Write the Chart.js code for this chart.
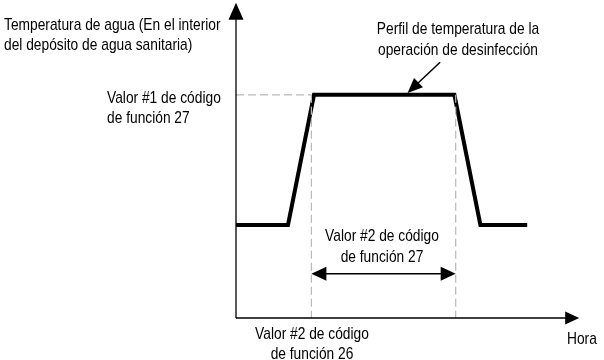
<!DOCTYPE html>
<html>
<head>
<meta charset="utf-8">
<script src="https://cdn.jsdelivr.net/npm/chart.js@4"></script>
<style>
html,body{margin:0;padding:0;background:#fff;}
#wrap{width:604px;height:360px;}
</style>
</head>
<body>
<div id="wrap"><canvas id="c" width="604" height="360"></canvas></div>
<script>
// Profile (time units vs temperature units)
const profileTimes = [0, 2, 3, 8.4, 9.4, 11.2];
const profileTemps = [20, 20, 48, 48, 20, 20];
// Guide values
const setTemp = 48;            // Valor #1 de código de función 27
const startTime = 2.9;         // Valor #2 de código de función 26
const endTime = 8.45;          // start + Valor #2 de código de función 27
const spanArrowTemp = 9.5;
const pointerFrom = [7.85, 55];
const pointerTo = [6.6, 48.4];
// Axis extents
const xAxisEnd = 13.2;
const yAxisEnd = 67.8;
const xRange = [-9.0769, 14.1538];
const yRange = [-9.032, 68.387];
// Labels
const yTitle = ["Temperatura de agua (En el interior", "del depósito de agua sanitaria)"];
const xTitle = "Hora";
const setLabel = ["Valor #1 de código", "de función 27"];
const startLabel = ["Valor #2 de código", "de función 26"];
const spanLabel = ["Valor #2 de código", "de función 27"];
const profileLabel = ["Perfil de temperatura de la", "operación de desinfección"];

const FONT = '17px "Liberation Sans", Arial, sans-serif';
const SX = 0.81;
const GUIDE = '#b8b8b8';

const profile = profileTimes.map((t, i) => ({x: t, y: profileTemps[i]}));

function tri(ctx, tip, ang, len, half) {
  const [x, y] = tip;
  const bx = x - Math.cos(ang) * len, by = y - Math.sin(ang) * len;
  const nx = -Math.sin(ang) * half, ny = Math.cos(ang) * half;
  ctx.beginPath();
  ctx.moveTo(x, y);
  ctx.lineTo(bx + nx, by + ny);
  ctx.lineTo(bx - nx, by - ny);
  ctx.closePath();
  ctx.fill();
}

function text(ctx, s, x, y, align) {
  ctx.save();
  ctx.translate(x, y);
  ctx.scale(SX, 1);
  ctx.textAlign = align;
  ctx.fillText(s, 0, 0);
  ctx.restore();
}

const overlay = {
  id: 'overlay',
  afterDatasetsDraw(chart) {
    const ctx = chart.ctx;
    const xs = chart.scales.x, ys = chart.scales.y;
    const px = v => xs.getPixelForValue(v), py = v => ys.getPixelForValue(v);
    ctx.save();
    ctx.fillStyle = '#000';
    ctx.strokeStyle = '#000';
    // axes
    const ox = px(0), oy = py(0);
    ctx.lineWidth = 1.3;
    ctx.beginPath();
    ctx.moveTo(ox, oy); ctx.lineTo(ox, py(yAxisEnd) + 14);
    ctx.moveTo(ox, oy); ctx.lineTo(px(xAxisEnd) - 12, oy);
    ctx.stroke();
    tri(ctx, [ox, py(yAxisEnd)], -Math.PI / 2, 17, 7.5);
    tri(ctx, [px(xAxisEnd), oy], 0, 14, 6.5);
    // span double arrow
    const ay = py(spanArrowTemp), ax1 = px(startTime), ax2 = px(endTime);
    ctx.lineWidth = 1.5;
    ctx.beginPath(); ctx.moveTo(ax1 + 10, ay); ctx.lineTo(ax2 - 10, ay); ctx.stroke();
    tri(ctx, [ax1, ay], Math.PI, 15, 7);
    tri(ctx, [ax2, ay], 0, 15, 7);
    // pointer arrow
    const f = [px(pointerFrom[0]), py(pointerFrom[1])], t = [px(pointerTo[0]), py(pointerTo[1])];
    const ang = Math.atan2(t[1] - f[1], t[0] - f[0]);
    ctx.lineWidth = 1.5;
    ctx.beginPath(); ctx.moveTo(f[0], f[1]);
    ctx.lineTo(t[0] - Math.cos(ang) * 10, t[1] - Math.sin(ang) * 10); ctx.stroke();
    tri(ctx, t, ang, 15, 6.5);
    // texts
    ctx.font = FONT;
    ctx.textBaseline = 'alphabetic';
    text(ctx, yTitle[0], 4, 30, 'left');
    text(ctx, yTitle[1], 4, 50, 'left');
    text(ctx, setLabel[0], 107, 103, 'left');
    text(ctx, setLabel[1], 107, 123, 'left');
    text(ctx, xTitle, 567, 344, 'left');
    text(ctx, profileLabel[0], 458, 34, 'center');
    text(ctx, profileLabel[1], 458, 55, 'center');
    text(ctx, spanLabel[0], 382, 241, 'center');
    text(ctx, spanLabel[1], 382, 262, 'center');
    text(ctx, startLabel[0], 312, 339, 'center');
    text(ctx, startLabel[1], 312, 359, 'center');
    ctx.restore();
  }
};

new Chart(document.getElementById('c'), {
  type: 'scatter',
  data: {
    datasets: [
      {data: [{x: 0, y: setTemp}, {x: startTime, y: setTemp}], showLine: true, borderColor: GUIDE, borderWidth: 1.2, borderDash: [8, 4], pointRadius: 0},
      {data: [{x: startTime, y: setTemp}, {x: startTime, y: 0}], showLine: true, borderColor: GUIDE, borderWidth: 1.2, borderDash: [8, 4], pointRadius: 0},
      {data: [{x: endTime, y: setTemp}, {x: endTime, y: 0}], showLine: true, borderColor: GUIDE, borderWidth: 1.2, borderDash: [8, 4], pointRadius: 0},
      {data: profile, showLine: true, borderColor: '#000', borderWidth: 4, borderJoinStyle: 'miter', borderCapStyle: 'butt', pointRadius: 0, tension: 0}
    ]
  },
  options: {
    responsive: false,
    animation: false,
    events: [],
    layout: {padding: 0},
    plugins: {legend: {display: false}, tooltip: {enabled: false}},
    scales: {
      x: {type: 'linear', display: false, min: xRange[0], max: xRange[1]},
      y: {type: 'linear', display: false, min: yRange[0], max: yRange[1]}
    }
  },
  plugins: [overlay]
});
</script>
</body>
</html>
